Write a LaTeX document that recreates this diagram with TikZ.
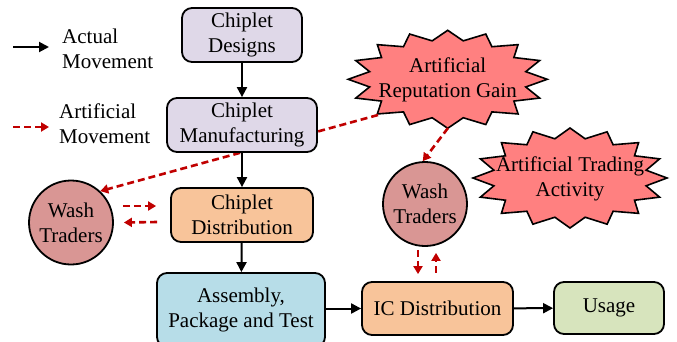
\documentclass[tikz,border=0pt]{standalone}
\usepackage{fontspec}
\setmainfont{Liberation Serif}
\usetikzlibrary{arrows.meta,calc}

\definecolor{lavfill}{HTML}{DFD8E8}
\definecolor{orangefill}{HTML}{F8C49A}
\definecolor{bluefill}{HTML}{B7DDE8}
\definecolor{greenfill}{HTML}{D7E4BD}
\definecolor{washfill}{HTML}{D99694}
\definecolor{burstfill}{HTML}{FF8080}
\definecolor{fakered}{HTML}{C00000}

\tikzset{
  stagebox/.style={draw=black, line width=1.8pt, rounded corners=10pt,
    align=center, inner sep=0pt, font=\fontsize{21}{25}\selectfont},
  trader/.style={draw=black, line width=1.8pt, circle, fill=washfill,
    minimum size=84pt, inner sep=0pt, align=center,
    font=\fontsize{21}{25}\selectfont},
  burstlabel/.style={align=center, inner sep=0pt,
    font=\fontsize{21}{25}\selectfont},
  legendtext/.style={align=left, inner sep=0pt, anchor=west,
    font=\fontsize{21}{25}\selectfont},
  burstline/.style={draw=black, line width=1.6pt, fill=burstfill, line join=miter},
  realflow/.style={line width=2pt, -{Triangle[length=10pt,width=10pt]}},
  fakeflow/.style={draw=fakered, line width=2.6pt, dash pattern=on 7pt off 4pt,
    -{Triangle[length=8pt,width=9pt]}},
}

% 16-point starburst on an ellipse: centre (#1,#2), semi-axes #3 and #4
\newcommand\burstshape[4]{%
  \path[burstline] (#1,#2-#4)
    \foreach \k in {1,...,31}{
      -- ({#1+#3*(1-0.2*mod(\k,2))*cos(90+11.25*\k)},
          {#2-#4*(1-0.2*mod(\k,2))*sin(90+11.25*\k)})
    } -- cycle;%
}

\begin{document}
\begin{tikzpicture}[x=1pt,y=-1pt]
\useasboundingbox (0,0) rectangle (677,341);

% legend
\coordinate (la1) at (13,47);
\coordinate (la2) at (49,47);
\coordinate (lb1) at (13,127);
\coordinate (lb2) at (49,127);
\draw[realflow] (la1) -- (la2);
\draw[fakeflow] (lb1) -- (lb2);
\node[legendtext] (lta) at (62,48.7) {Actual\\Movement};
\node[legendtext] (ltb) at (59,123.7) {Artificial\\Movement};

% reputation starburst and the fake flow out of it (drawn behind the boxes)
\burstshape{447.7}{79.3}{99.5}{49}
\node[burstlabel] (rep) at (447.7,80) {Artificial\\Reputation Gain};
\coordinate (repL) at (378,115);
\coordinate (repB) at (448,128);

\burstshape{570}{178}{97}{50}
\node[burstlabel] (trade) at (570,179) {Artificial Trading\\Activity};

\node[trader] (wl) at (71,222.5) {Wash\\Traders};
\node[trader] (wr) at (425,204) {Wash\\Traders};

\draw[fakeflow] (repL) -- (wl.47);
\draw[fakeflow] (repB) -- (wr.93);

% supply chain stages
\node[stagebox, fill=lavfill, minimum width=120pt, minimum height=54pt] (des) at (242,35) {Chiplet\\Designs};
\node[stagebox, fill=lavfill, minimum width=150pt, minimum height=54pt] (man) at (242,125) {Chiplet\\Manufacturing};
\node[stagebox, fill=orangefill, minimum width=142pt, minimum height=54pt] (dist) at (242,215) {Chiplet\\Distribution};
\node[stagebox, fill=bluefill, minimum width=168pt, minimum height=74pt] (asm) at (241,310) {Assembly,\\Package and Test};
\node[stagebox, fill=orangefill, minimum width=151pt, minimum height=53pt] (icd) at (437.5,308.5) {IC Distribution};
\node[stagebox, fill=greenfill, minimum width=110pt, minimum height=52pt] (use) at (609,308) {Usage};

\draw[realflow] (des) -- (man);
\draw[realflow] (man) -- (dist);
\draw[realflow] (dist) -- (asm);
\draw[realflow] (asm.east |- icd) -- (icd);
\draw[realflow] (icd) -- (use);

% wash trading loops
\draw[fakeflow] ($(wl.east)+(9,-16.5)$) -- ($(dist.west)+(-14,-9)$);
\draw[fakeflow] ($(dist.west)+(-13,7)$) -- ($(wl.east)+(10,0)$);
\draw[fakeflow] ($(wr.south)+(-7,3)$) -- ($(icd.north)+(-19.5,-7)$);
\draw[fakeflow] ($(icd.north)+(-1.5,-8.5)$) -- ($(wr.south)+(11,6)$);
\end{tikzpicture}
\end{document}
